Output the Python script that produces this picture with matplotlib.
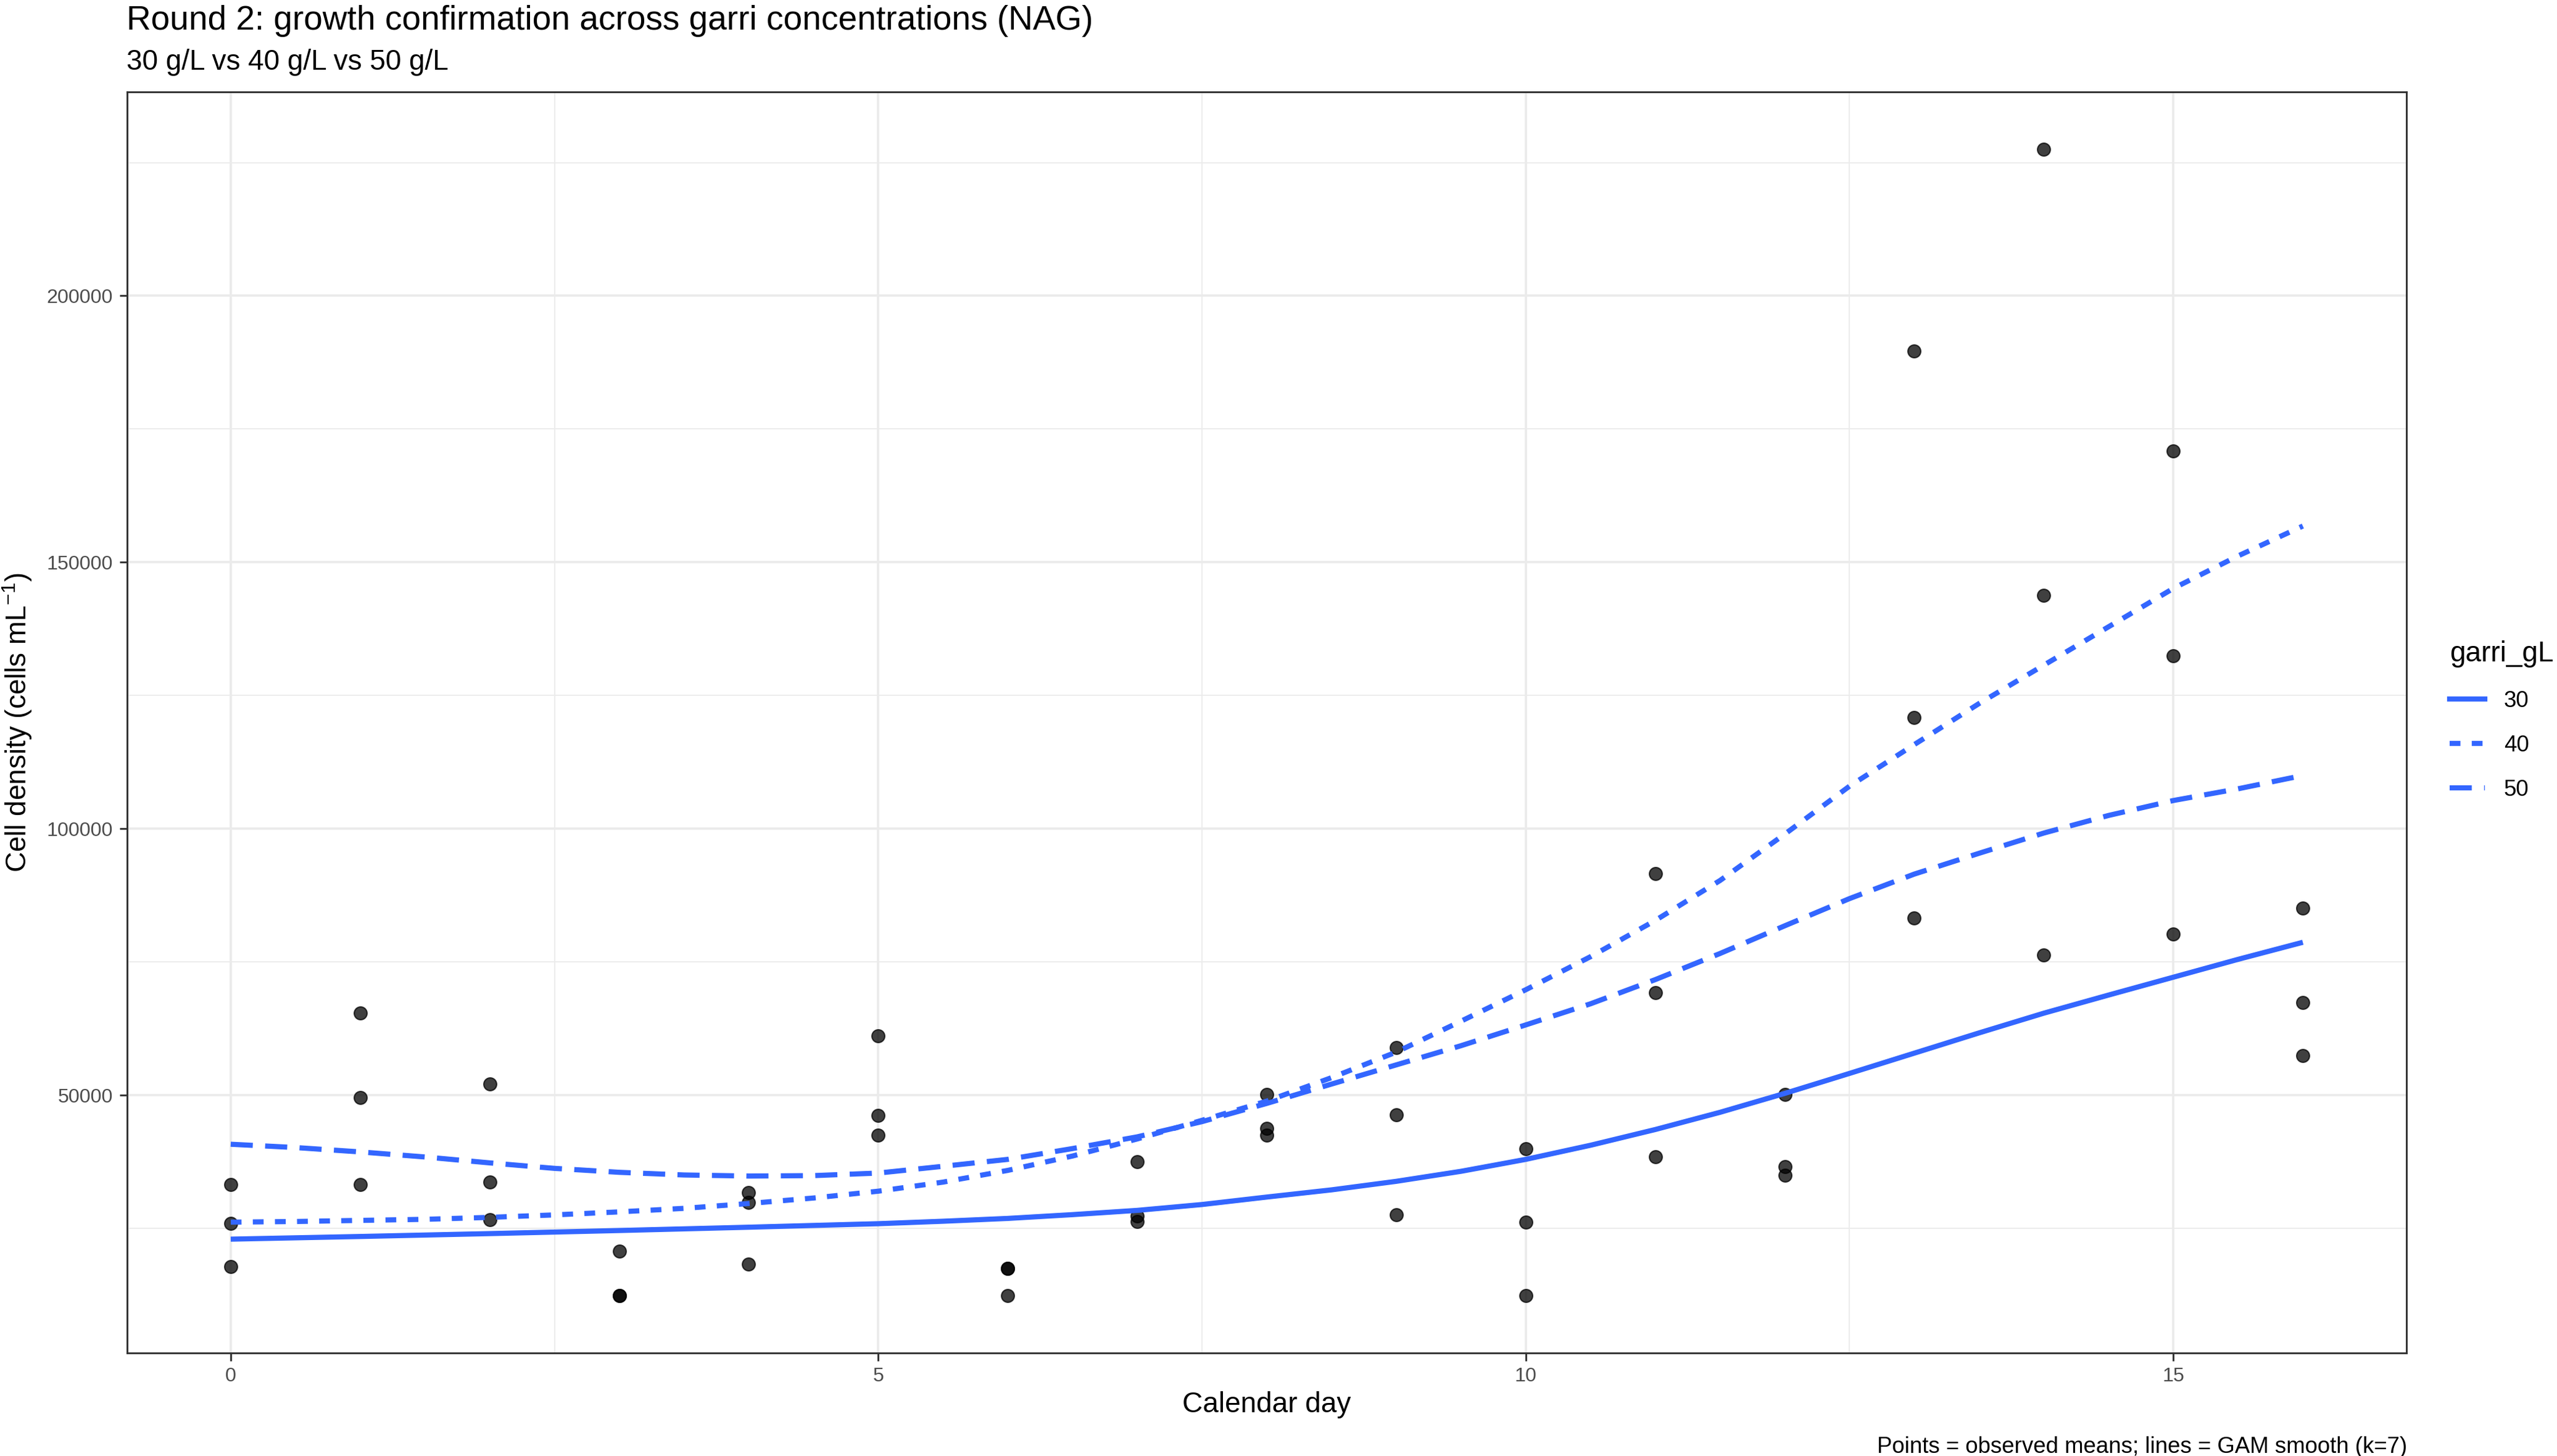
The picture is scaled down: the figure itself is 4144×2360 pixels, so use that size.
"""Round 2 garri growth confirmation chart (observed means + GAM smooth lines)."""

import matplotlib

matplotlib.use("Agg")
import matplotlib.pyplot as plt
from matplotlib.lines import Line2D

# ---- data ------------------------------------------------------------------
DAYS = list(range(17))

# three observed means per calendar day (one per garri concentration)
POINT_DAYS = [d for d in DAYS for _ in range(3)]
POINT_VALUES = [
    33300, 25900, 17900,
    65400, 49600, 33300,
    52100, 33700, 26700,
    20800, 12400, 12400,
    31800, 29900, 18300,
    61200, 46200, 42500,
    17500, 17500, 12400,
    37500, 27400, 26300,
    50100, 43800, 42500,
    58900, 46300, 27600,
    40000, 26200, 12400,
    91600, 69200, 38400,
    50100, 36600, 35000,
    189600, 120900, 83300,
    227500, 143800, 76300,
    170900, 132400, 80200,
    85100, 67400, 57400,
]

# GAM smooth curves, read every half day
GARRI_LEVELS = ["30", "40", "50"]
SMOOTH_DAYS = [
    0, 0.5, 1, 1.5, 2, 2.5, 3, 3.5, 4, 4.5, 5, 5.5, 6, 6.5, 7, 7.5, 8,
    8.5, 9, 9.5, 10, 10.5, 11, 11.5, 12, 12.5, 13, 13.5, 14, 14.5, 15, 15.5, 16,
]
SMOOTH_30 = [
    23000, 23250, 23500, 23770, 24040, 24330, 24620, 24930, 25240, 25570,
    25900, 26360, 26890, 27600, 28400, 29500, 30900, 32250, 33850, 35730,
    37970, 40620, 43570, 46800, 50350, 54100, 57900, 61700, 65400, 68800,
    72150, 75500, 78700,
]
SMOOTH_40 = [
    26190, 26310, 26520, 26720, 27090, 27550, 28120, 28780, 29690, 30720,
    32000, 33700, 35900, 38600, 41800, 45300, 48900, 53300, 58100, 63900,
    69800, 76000, 82800, 90300, 99000, 108000, 115800, 123500, 130700, 137900,
    145100, 151200, 156800,
]
SMOOTH_50 = [
    40810, 40190, 39370, 38420, 37310, 36280, 35540, 35040, 34840, 34920,
    35400, 36670, 37970, 40000, 42200, 45050, 48470, 52100, 55700, 59300,
    63200, 67160, 71700, 76600, 81800, 86900, 91500, 95400, 99200, 102500,
    105300, 107500, 110000,
]

X_TICKS = [0, 5, 10, 15]
X_MINOR = [2.5, 7.5, 12.5]
Y_TICKS = [50000, 100000, 150000, 200000]
Y_TICK_LABELS = ["50000", "100000", "150000", "200000"]
Y_MINOR = [25000, 75000, 125000, 175000, 225000]

TITLE = "Round 2: growth confirmation across garri concentrations (NAG)"
SUBTITLE = "30 g/L vs 40 g/L vs 50 g/L"
CAPTION = "Points = observed means; lines = GAM smooth (k=7)"

# ---- style -----------------------------------------------------------------
W, H, DPI = 4144, 2360, 300
BLUE = "#3366FF"
LW = 2.0
STYLES = {
    "30": "-",
    "40": (0, (2.1, 2.2)),
    "50": (0, (4.3, 2.4)),
}

plt.rcParams["font.family"] = ["Liberation Sans", "DejaVu Sans"]
plt.rcParams["mathtext.fontset"] = "custom"
plt.rcParams["mathtext.rm"] = "Liberation Sans"
plt.rcParams["mathtext.it"] = "Liberation Sans:italic"


def px_x(px):
    return px / W


def px_y(px):
    return 1 - px / H


fig = plt.figure(figsize=(W / DPI, H / DPI), dpi=DPI)
ax = fig.add_axes([px_x(206), px_y(2193), px_x(3900 - 206), (2193 - 149) / H])

ax.scatter(POINT_DAYS, POINT_VALUES, s=5.0 ** 2, color="black", alpha=0.75,
           edgecolors="black", linewidths=0.5, zorder=3)

for level, series in zip(GARRI_LEVELS, [SMOOTH_30, SMOOTH_40, SMOOTH_50]):
    ax.plot(SMOOTH_DAYS, series, color=BLUE, lw=LW, ls=STYLES[level],
            dash_capstyle="butt", solid_capstyle="butt",
            solid_joinstyle="round", dash_joinstyle="round", zorder=4)

# ggplot-like 5% expansion on both axes
x_span = max(DAYS) - min(DAYS)
ax.set_xlim(min(DAYS) - 0.05 * x_span, max(DAYS) + 0.05 * x_span)
y_span = max(POINT_VALUES) - min(POINT_VALUES)
ax.set_ylim(min(POINT_VALUES) - 0.05 * y_span, max(POINT_VALUES) + 0.05 * y_span)

ax.set_xticks(X_TICKS)
ax.set_xticks(X_MINOR, minor=True)
ax.set_yticks(Y_TICKS, Y_TICK_LABELS)
ax.set_yticks(Y_MINOR, minor=True)

ax.grid(which="major", color="#EBEBEB", lw=0.9)
ax.grid(which="minor", color="#EBEBEB", lw=0.45)
ax.set_axisbelow(True)
for spine in ax.spines.values():
    spine.set_color("#333333")
    spine.set_linewidth(0.7)

ax.tick_params(which="major", length=3, width=0.7, color="#333333",
               labelcolor="#4D4D4D", labelsize=7.75, pad=2.5)
ax.tick_params(which="minor", length=0)

# texts
fig.text(px_x(205), px_y(48), TITLE, fontsize=13.2, va="baseline", ha="left")
fig.text(px_x(205), px_y(113), SUBTITLE, fontsize=11, va="baseline", ha="left")
fig.text(px_x(3901), px_y(2355), CAPTION, fontsize=8.8, va="baseline", ha="right")
fig.text(px_x((206 + 3900) / 2), px_y(2289), "Calendar day", fontsize=11,
         va="baseline", ha="center")
fig.text(px_x(28), px_y((149 + 2193) / 2), r"Cell density (cells mL$^{-1}$)",
         fontsize=11, rotation=90, va="center", ha="center")

# legend
handles = [Line2D([], [], color=BLUE, lw=LW, ls=STYLES[g]) for g in GARRI_LEVELS]
leg = fig.legend(handles, GARRI_LEVELS, title="garri_gL", loc="center left",
                 bbox_to_anchor=(px_x(3970), px_y(1168)), frameon=False,
                 fontsize=8.8, title_fontsize=11, handlelength=1.55,
                 handletextpad=0.85, labelspacing=1.0, borderpad=0,
                 borderaxespad=0, alignment="left")

fig.savefig("out.png", dpi=DPI)
